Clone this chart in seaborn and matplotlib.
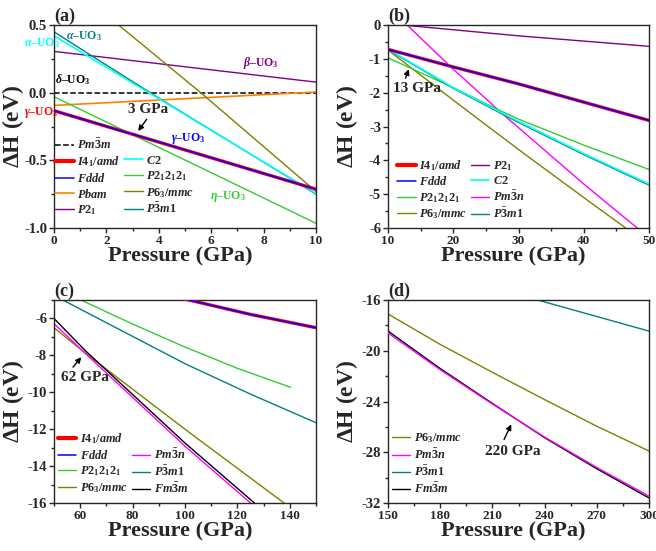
import matplotlib
matplotlib.use("Agg")
import matplotlib.pyplot as plt
from matplotlib.lines import Line2D
from matplotlib.ticker import MultipleLocator, FormatStrFormatter
import seaborn as sns

# ---------------- data (pressure in GPa, dH in eV) -------------
# panel (a): 0-10 GPa, relative to Pm-3m
a_pm3m_p, a_pm3m_h = [0, 10], [0.0, 0.0]
a_i41_p, a_i41_h = [0, 10], [-0.133, -0.713]
a_fddd_p, a_fddd_h = [0, 10], [-0.133, -0.713]
a_pbam_p, a_pbam_h = [0, 10], [-0.094, 0.005]
a_p21_p, a_p21_h = [0, 10], [0.305, 0.078]
a_c2_p, a_c2_h = [0, 4, 10], [0.42, -0.045, -0.745]
a_p212121_p, a_p212121_h = [0, 10], [-0.03, -0.965]
a_p63_p, a_p63_h = [2.4, 5.6, 10], [0.51, 0.0, -0.73]
a_p3m1_p, a_p3m1_h = [0, 1.5, 4, 10], [0.45, 0.265, -0.04, -0.75]

# panel (b): 10-50 GPa
b_i41_p, b_i41_h = [10, 20, 30, 40, 50], [-0.72, -1.24, -1.74, -2.28, -2.82]
b_fddd_p, b_fddd_h = [10, 20, 30, 40, 50], [-0.72, -1.24, -1.74, -2.28, -2.82]
b_p21_p, b_p21_h = [10, 30, 50], [0.04, -0.32, -0.63]
b_c2_p, b_c2_h = [10, 13, 20, 27, 30, 40, 50], [-0.72, -1.05, -1.85, -2.55, -2.85, -3.8, -4.7]
b_p3m1_p, b_p3m1_h = [10, 13, 20, 27, 30, 40, 50], [-0.74, -1.07, -1.87, -2.58, -2.88, -3.83, -4.73]
b_p212121_p, b_p212121_h = [10, 20, 27.4, 30, 40, 50], [-0.97, -1.85, -2.55, -2.78, -3.55, -4.27]
b_pm3n_p, b_pm3n_h = [12.5, 19.4, 27.4, 40, 48.2, 50], [0.08, -1.2, -2.6, -4.7, -6.0, -6.3]
b_p63_p, b_p63_h = [10, 20, 30, 40, 50], [-0.74, -2.22, -3.68, -5.1, -6.5]

# panel (c): 50-150 GPa
c_i41_p, c_i41_h = [100, 125, 150], [-4.95, -5.78, -6.5]
c_fddd_p, c_fddd_h = [100, 125, 150], [-4.95, -5.78, -6.5]
c_p212121_p, c_p212121_h = [58, 80, 100, 120, 140.3], [-4.85, -6.3, -7.55, -8.7, -9.73]
c_p3m1_p, c_p3m1_h = [50, 75, 100, 125, 150], [-4.75, -6.6, -8.45, -10.1, -11.65]
c_fm3m_p, c_fm3m_h = [50, 62, 100, 126.5, 130], [-6.0, -7.75, -12.75, -16.0, -16.45]
c_pm3n_p, c_pm3n_h = [50, 62, 100, 125, 130], [-6.28, -7.9, -12.92, -16.0, -16.6]
c_p63_p, c_p63_h = [50, 62, 100, 137.8, 150], [-6.5, -7.88, -12.0, -16.0, -17.2]

# panel (d): 150-300 GPa
d_p = [150, 180, 210, 240, 270, 300]
d_p63_h = [-17.1, -19.5, -21.7, -23.85, -25.95, -27.9]
d_pm3n_h = [-18.6, -21.5, -24.2, -26.8, -29.2, -31.45]
d_fm3m_h = [-18.45, -21.4, -24.15, -26.85, -29.3, -31.6]
d_p3m1_p, d_p3m1_h = [150, 200, 236, 270, 300], [-11.65, -14.4, -16.0, -17.3, -18.45]

# ---------------- phase styles ----------------
STYLE = {
    "pm3m": (r"$Pm\bar{3}m$", "black", 1.1, "--"),
    "i41": (r"$I4_1/amd$", "#FF0000", 2.4, "-"),
    "fddd": (r"$Fddd$", "#0000FF", 1.1, "-"),
    "pbam": (r"$Pbam$", "#FF8000", 1.2, "-"),
    "p21": (r"$P2_1$", "#800080", 1.0, "-"),
    "c2": (r"$C2$", "#00FFFF", 1.2, "-"),
    "p212121": (r"$P2_12_12_1$", "#33CC33", 1.0, "-"),
    "p63": (r"$P6_3/mmc$", "#808000", 1.0, "-"),
    "p3m1": (r"$P\bar{3}m1$", "#008080", 1.0, "-"),
    "pm3n": (r"$Pm\bar{3}n$", "#FF00FF", 1.0, "-"),
    "fm3m": (r"$Fm\bar{3}m$", "black", 1.0, "-"),
}

sns.set_style("ticks")
plt.rcParams.update({
    "font.family": ["Liberation Serif", "DejaVu Serif"],
    "font.weight": "bold",
    "axes.labelweight": "bold",
    "axes.unicode_minus": False,
    "mathtext.fontset": "custom",
    "mathtext.rm": "Liberation Serif:bold",
    "mathtext.it": "Liberation Serif:italic:bold",
    "mathtext.bf": "Liberation Serif:bold",
    "axes.linewidth": 1.0,
    "xtick.direction": "out",
    "ytick.direction": "out",
    "xtick.major.size": 3.5,
    "ytick.major.size": 3.5,
    "xtick.minor.size": 2,
    "ytick.minor.size": 2,
    "xtick.major.pad": 1.2,
    "ytick.major.pad": 1.5,
    "xtick.minor.visible": True,
    "ytick.minor.visible": True,
    "xtick.labelsize": 9.5,
    "ytick.labelsize": 10.5,
})


def draw(ax, key, p, h, z=2):
    lab, col, lw, ls = STYLE[key]
    sns.lineplot(x=p, y=h, ax=ax, color=col, lw=lw, ls=ls, legend=False, zorder=z)


def handle(key):
    lab, col, lw, ls = STYLE[key]
    if key == "i41":
        lw = 3.0
    return Line2D([], [], color=col, lw=lw, ls=ls, label=lab)


def blank():
    return Line2D([], [], color="none", label=" ")


def frame(ax, tag, xlim, ylim, xmaj, xmin, ymaj, ymin, yfmt):
    ax.set_xlim(*xlim)
    ax.set_ylim(*ylim)
    ax.xaxis.set_major_locator(MultipleLocator(xmaj))
    ax.xaxis.set_minor_locator(MultipleLocator(xmin))
    ax.yaxis.set_major_locator(MultipleLocator(ymaj))
    ax.yaxis.set_minor_locator(MultipleLocator(ymin))
    ax.yaxis.set_major_formatter(FormatStrFormatter(yfmt))
    ax.tick_params(which="both", top=False, right=False, width=1)
    ax.set_xlabel("Pressure (GPa)", fontsize=16)
    ax.set_ylabel(r"$\mathbf{\Delta}$H (eV)", fontsize=17)
    ax.xaxis.set_label_coords(0.48, -0.092)
    ax.yaxis.set_label_coords(-0.106, 0.5)
    ax.set_title(tag, loc="left", fontsize=13, fontweight="bold", pad=3)


def arrow(ax, text, tail, head, txy):
    ax.annotate("", xy=head, xytext=tail,
                arrowprops=dict(arrowstyle="-|>", color="black", lw=1, mutation_scale=8))
    ax.text(txy[0], txy[1], text, fontsize=11, fontweight="bold", ha="left", va="center")


fig = plt.figure(figsize=(6.56, 5.51), dpi=100)
ax_a = fig.add_axes([0.0823, 0.5862, 0.3994, 0.3684])
ax_b = fig.add_axes([0.5915, 0.5862, 0.3978, 0.3684])
ax_c = fig.add_axes([0.0823, 0.0871, 0.3994, 0.3684])
ax_d = fig.add_axes([0.5915, 0.0871, 0.3978, 0.3684])

leg_kw = dict(frameon=False, fontsize=8.8, handlelength=1.5, handletextpad=0.3,
              columnspacing=0.3, labelspacing=0.22, borderpad=0.2)

# ---- (a) ----
draw(ax_a, "pm3m", a_pm3m_p, a_pm3m_h)
draw(ax_a, "p21", a_p21_p, a_p21_h)
draw(ax_a, "pbam", a_pbam_p, a_pbam_h)
draw(ax_a, "p212121", a_p212121_p, a_p212121_h)
draw(ax_a, "p63", a_p63_p, a_p63_h)
draw(ax_a, "p3m1", a_p3m1_p, a_p3m1_h)
draw(ax_a, "c2", a_c2_p, a_c2_h)
draw(ax_a, "i41", a_i41_p, a_i41_h, z=3)
draw(ax_a, "fddd", a_fddd_p, a_fddd_h, z=4)
frame(ax_a, "(a)", (0, 10), (-1.0, 0.5), 2, 1, 0.5, 0.25, "%.1f")
ax_a.legend(handles=[handle(k) for k in ["pm3m", "i41", "fddd", "pbam", "p21"]]
            + [blank()] + [handle(k) for k in ["c2", "p212121", "p63", "p3m1"]],
            ncol=2, loc="lower left", bbox_to_anchor=(-0.02, 0.02),
            borderaxespad=0.35, **leg_kw)
uo3 = r"$\mathit{%s}$" + "\u2013UO$_3$"
for txt, col, x, y in [(uo3 % r"\alpha", "#00FFFF", -1.15, 0.37),
                       (uo3 % r"\alpha", "#008080", 0.47, 0.42),
                       (uo3 % r"\beta", "#800080", 7.22, 0.217),
                       (uo3 % r"\delta", "black", 0.03, 0.094),
                       (uo3 % r"\gamma", "#FF0000", -1.15, -0.15),
                       (uo3 % r"\gamma", "#0000FF", 4.48, -0.336),
                       (uo3 % r"\eta", "#33CC33", 5.95, -0.766)]:
    ax_a.text(x, y, txt, color=col, fontsize=8.5, fontweight="bold",
              ha="left", va="center")
arrow(ax_a, "3 GPa", (3.6, -0.18), (3.15, -0.30), (2.83, -0.127))

# ---- (b) ----
draw(ax_b, "p21", b_p21_p, b_p21_h)
draw(ax_b, "p63", b_p63_p, b_p63_h)
draw(ax_b, "pm3n", b_pm3n_p, b_pm3n_h)
draw(ax_b, "p212121", b_p212121_p, b_p212121_h)
draw(ax_b, "p3m1", b_p3m1_p, b_p3m1_h)
draw(ax_b, "c2", b_c2_p, b_c2_h)
draw(ax_b, "i41", b_i41_p, b_i41_h, z=3)
draw(ax_b, "fddd", b_fddd_p, b_fddd_h, z=4)
frame(ax_b, "(b)", (10, 50), (-6, 0), 10, 5, 1, 0.5, "%d")
ax_b.legend(handles=[handle(k) for k in ["i41", "fddd", "p212121", "p63",
                                         "p21", "c2", "pm3n", "p3m1"]],
            ncol=2, loc="lower left", bbox_to_anchor=(0.01, 0.0),
            borderaxespad=0.35, **leg_kw)
arrow(ax_b, "13 GPa", (12.55, -1.65), (13.3, -1.23), (10.77, -1.875))

# ---- (c) ----
draw(ax_c, "p212121", c_p212121_p, c_p212121_h)
draw(ax_c, "p3m1", c_p3m1_p, c_p3m1_h)
draw(ax_c, "p63", c_p63_p, c_p63_h)
draw(ax_c, "pm3n", c_pm3n_p, c_pm3n_h)
draw(ax_c, "fm3m", c_fm3m_p, c_fm3m_h)
draw(ax_c, "i41", c_i41_p, c_i41_h, z=3)
draw(ax_c, "fddd", c_fddd_p, c_fddd_h, z=4)
frame(ax_c, "(c)", (50, 150), (-16, -5), 20, 10, 2, 1, "%d")
ax_c.legend(handles=[handle(k) for k in ["i41", "fddd", "p212121", "p63"]]
            + [blank()] + [handle(k) for k in ["pm3n", "p3m1", "fm3m"]],
            ncol=2, loc="lower left", bbox_to_anchor=(-0.01, 0.0),
            borderaxespad=0.35, **leg_kw)
arrow(ax_c, "62 GPa", (56.6, -8.75), (61.1, -7.98), (52.8, -9.2))

# ---- (d) ----
draw(ax_d, "p63", d_p, d_p63_h)
draw(ax_d, "p3m1", d_p3m1_p, d_p3m1_h)
draw(ax_d, "fm3m", d_p, d_fm3m_h)
draw(ax_d, "pm3n", d_p, d_pm3n_h, z=3)
frame(ax_d, "(d)", (150, 300), (-32, -16), 30, 15, 4, 2, "%d")
ax_d.legend(handles=[handle(k) for k in ["p63", "pm3n", "p3m1", "fm3m"]],
            ncol=1, loc="lower left", bbox_to_anchor=(-0.01, 0.0),
            borderaxespad=0.35, **leg_kw)
arrow(ax_d, "220 GPa", (216, -27.2), (221.5, -25.6), (205.5, -27.97))

fig.savefig("out.png", dpi=100)
